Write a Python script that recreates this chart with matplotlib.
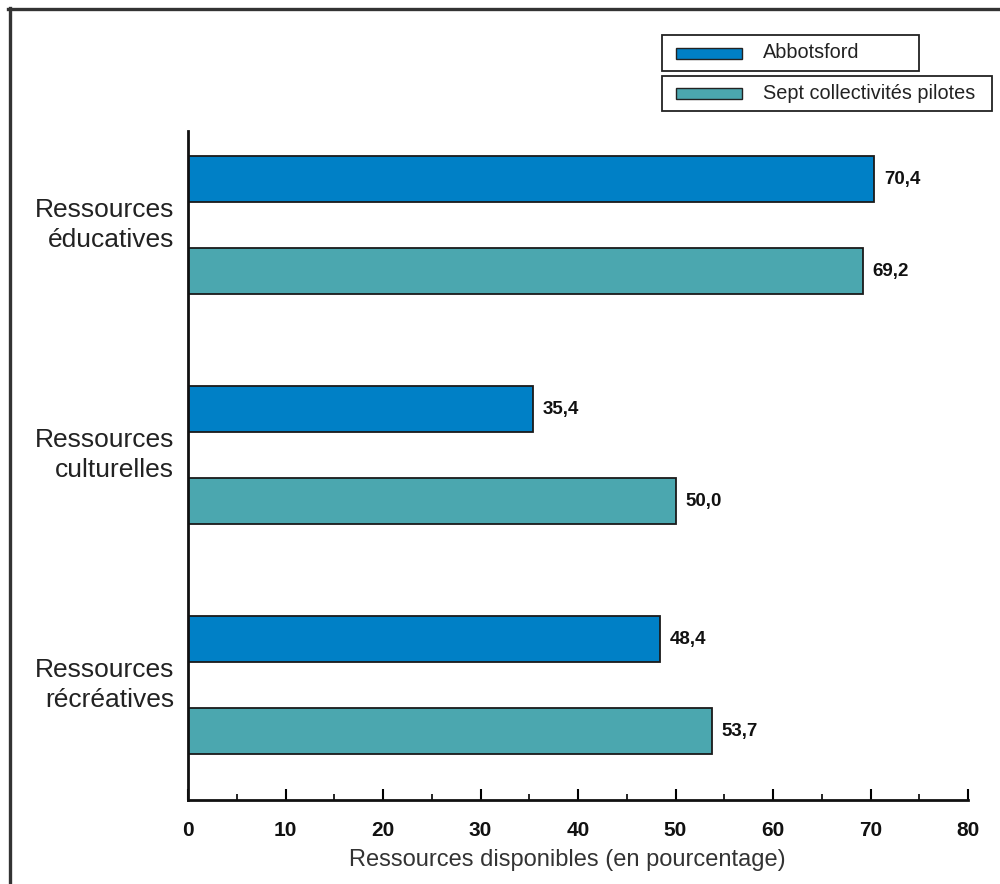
import matplotlib
matplotlib.use("Agg")
import matplotlib.pyplot as plt
from matplotlib.patches import Rectangle
from matplotlib.lines import Line2D
from matplotlib.ticker import MultipleLocator

categories = ["Ressources\néducatives", "Ressources\nculturelles", "Ressources\nrécréatives"]
series_names = ["Abbotsford", "Sept collectivités pilotes"]
abbotsford = [70.4, 35.4, 48.4]
sept = [69.2, 50.0, 53.7]
xticks = [0, 10, 20, 30, 40, 50, 60, 70, 80]
xlabel = "Ressources disponibles (en pourcentage)"

colors = ["#0080C6", "#4BA7AF"]
edge = "#1a1a1a"

plt.rcParams['font.family'] = ['Liberation Sans', 'DejaVu Sans']

W, H = 1000, 884
fig = plt.figure(figsize=(W / 100, H / 100), dpi=100)
ax = fig.add_axes([188 / W, 1 - 800 / H, (968 - 188) / W, (800 - 131) / H])

pos = list(range(len(categories)))
bh = 0.2
off = 0.2
for vals, c, o in [(abbotsford, colors[0], -off), (sept, colors[1], off)]:
    ys = [p + o for p in pos]
    ax.barh(ys, vals, height=bh, color=c, edgecolor=edge, linewidth=1.3)
    for y, v in zip(ys, vals):
        ax.annotate(f"{v:.1f}".replace(".", ","), (v, y), xytext=(7, 0),
                    textcoords="offset points", ha="left", va="center",
                    fontsize=13.5, fontweight="bold", color="#111111")

ax.set_xlim(0, 80)
ax.set_ylim(2.5, -0.4087)
ax.set_yticks(pos)
ax.set_yticklabels([])
ax.tick_params(axis="y", length=0)
for p, cat in zip(pos, categories):
    ax.annotate(cat, (0, p), xycoords=("axes fraction", "data"), xytext=(-10, 0),
                textcoords="offset points", ha="right", va="center",
                fontsize=19, color="#222222", linespacing=1.35, multialignment="right")

ax.set_xticks(xticks)
ax.set_xticklabels([str(t) for t in xticks], fontsize=15, fontweight="bold", color="#111111")
ax.xaxis.set_minor_locator(MultipleLocator(5))
ax.tick_params(axis="x", which="major", direction="in", length=8, width=1.5, pad=15)
ax.tick_params(axis="x", which="minor", direction="in", length=4, width=1.2)
ax.spines["top"].set_visible(False)
ax.spines["right"].set_visible(False)
ax.spines["left"].set_linewidth(2)
ax.spines["bottom"].set_linewidth(2)
ax.spines["left"].set_color("#111111")
ax.spines["bottom"].set_color("#111111")

fig.text(567 / W, 1 - 860 / H, xlabel, ha="center", va="center", fontsize=17, color="#333333")

# Legend boxes
def fx(x):
    return x / W
def fy(y):
    return 1 - y / H

boxes = [(662, 35, 919, 71), (662, 76, 992, 111)]
for (x0, y0, x1, y1), name, c in zip(boxes, series_names, colors):
    fig.patches.append(Rectangle((fx(x0), fy(y1)), fx(x1) - fx(x0), fy(y0) - fy(y1),
                                 transform=fig.transFigure, facecolor="white",
                                 edgecolor="#222222", linewidth=1.3))
    cy = (y0 + y1) / 2
    fig.patches.append(Rectangle((fx(676), fy(cy + 5.5)), fx(742) - fx(676), 11 / H,
                                 transform=fig.transFigure, facecolor=c,
                                 edgecolor="#222222", linewidth=1.0))
    fig.text(fx(763), fy(cy), name, ha="left", va="center", fontsize=14.3, color="#222222")

# Outer frame (top and left visible)
fig.add_artist(Line2D([fx(8), 1.0], [fy(8.5), fy(8.5)], transform=fig.transFigure,
                      color="#333333", linewidth=2.4))
fig.add_artist(Line2D([fx(9.5), fx(9.5)], [fy(7.5), 0.0], transform=fig.transFigure,
                      color="#333333", linewidth=2.4))

fig.savefig("out.png", dpi=100, facecolor="white")
